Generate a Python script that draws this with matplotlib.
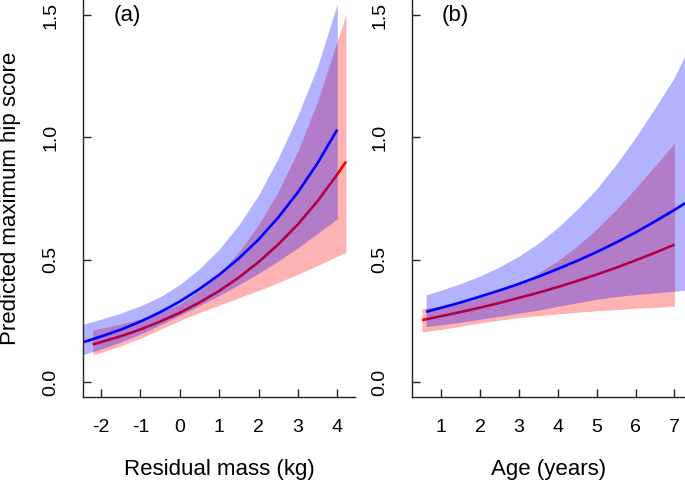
import numpy as np
import matplotlib
matplotlib.use("Agg")
import matplotlib.pyplot as plt

plt.rcParams['font.family'] = ['Liberation Sans', 'DejaVu Sans']
plt.rcParams['axes.unicode_minus'] = False

# panel (a): residual mass
mass_blue = [-2.45, -2, -1.5, -1, -0.5, 0, 0.5, 1, 1.5, 2, 2.5, 3, 3.5, 4.0]
fit_blue_a = [0.164, 0.187, 0.215, 0.248, 0.286, 0.330, 0.381, 0.439, 0.506, 0.583, 0.673, 0.776, 0.895, 1.032]
up_blue_a = [0.237, 0.258, 0.282, 0.312, 0.349, 0.399, 0.464, 0.543, 0.643, 0.764, 0.915, 1.090, 1.290, 1.545]
lo_blue_a = [0.113, 0.136, 0.164, 0.197, 0.234, 0.273, 0.313, 0.355, 0.398, 0.445, 0.495, 0.549, 0.608, 0.668]

mass_red = [-2.21, -2, -1.5, -1, -0.5, 0, 0.5, 1, 1.5, 2, 2.5, 3, 3.5, 4, 4.22]
fit_red_a = [0.155, 0.164, 0.188, 0.216, 0.248, 0.284, 0.326, 0.373, 0.428, 0.491, 0.563, 0.645, 0.740, 0.849, 0.901]
up_red_a = [0.213, 0.220, 0.238, 0.259, 0.284, 0.320, 0.373, 0.442, 0.532, 0.643, 0.779, 0.944, 1.147, 1.394, 1.500]
lo_red_a = [0.113, 0.122, 0.149, 0.180, 0.216, 0.252, 0.285, 0.315, 0.345, 0.375, 0.407, 0.441, 0.477, 0.515, 0.530]

# panel (b): age
age_blue = [0.614, 1, 1.5, 2, 2.5, 3, 3.5, 4, 4.5, 5, 5.5, 6, 6.5, 7, 7.27]
fit_blue_b = [0.288, 0.304, 0.326, 0.350, 0.375, 0.402, 0.431, 0.463, 0.496, 0.532, 0.571, 0.612, 0.657, 0.704, 0.731]
up_blue_b = [0.357, 0.376, 0.403, 0.434, 0.471, 0.515, 0.568, 0.632, 0.706, 0.790, 0.890, 1.000, 1.120, 1.245, 1.335]
lo_blue_b = [0.227, 0.235, 0.245, 0.257, 0.270, 0.282, 0.295, 0.310, 0.325, 0.339, 0.350, 0.358, 0.365, 0.372, 0.376]

age_red = [0.51, 1, 1.5, 2, 2.5, 3, 3.5, 4, 4.5, 5, 5.5, 6, 6.5, 7.0]
fit_red_b = [0.254, 0.270, 0.287, 0.305, 0.324, 0.345, 0.366, 0.389, 0.414, 0.440, 0.468, 0.498, 0.529, 0.5625]
up_red_b = [0.300, 0.312, 0.326, 0.346, 0.372, 0.405, 0.446, 0.496, 0.556, 0.626, 0.705, 0.792, 0.883, 0.977]
lo_red_b = [0.206, 0.216, 0.229, 0.242, 0.254, 0.264, 0.272, 0.279, 0.286, 0.292, 0.297, 0.302, 0.306, 0.311]

W, H = 685, 482
fig = plt.figure(figsize=(W/100, H/100), dpi=100)
ax1 = fig.add_axes([83.3/W, 85/H, (355-83.3)/W, 397/H])
ax2 = fig.add_axes([412.3/W, 85/H, (685-412.3)/W, 397/H])


def panel(ax, xb, fb, ub, lb, xr, fr, ur, lr):
    # red first, blue band drawn over the red line
    ax.fill_between(xr, lr, ur, color=(1, 0, 0), alpha=0.3, lw=0, zorder=1)
    ax.plot(xr, fr, color='red', lw=1.9, solid_capstyle='butt', zorder=2)
    ax.fill_between(xb, lb, ub, color=(0, 0, 1), alpha=0.3, lw=0, zorder=3)
    ax.plot(xb, fb, color='blue', lw=1.9, solid_capstyle='butt', zorder=4)
    ax.set_ylim(-0.06, 1.561)
    ax.set_yticks([0, 0.5, 1.0, 1.5])
    ax.set_yticklabels(['0.0', '0.5', '1.0', '1.5'], rotation=90, va='center')
    for s in ['top', 'right']:
        ax.spines[s].set_visible(False)
    for s in ['left', 'bottom']:
        ax.spines[s].set_linewidth(1.0)
        ax.spines[s].set_color('#222222')
        ax.spines[s].set_zorder(5)
    ax.tick_params(direction='in', length=6, width=1.0, color='#222222', labelsize=14)
    ax.tick_params(axis='x', pad=16)
    ax.tick_params(axis='y', pad=17)


panel(ax1, mass_blue, fit_blue_a, up_blue_a, lo_blue_a, mass_red, fit_red_a, up_red_a, lo_red_a)
ax1.set_xlim(-2.45, 4.45)
ax1.set_xticks(range(-2, 5))
ax1.text(-1.32, 1.497, '(a)', fontsize=16, ha='center', va='center')

panel(ax2, age_blue, fit_blue_b, up_blue_b, lo_blue_b, age_red, fit_red_b, up_red_b, lo_red_b)
ax2.set_xlim(0.26, 7.27)
ax2.set_xticks(range(1, 8))
ax2.text(1.36, 1.497, '(b)', fontsize=16, ha='center', va='center')

fig.text(219/W, 1 - 470/H, 'Residual mass (kg)', fontsize=16, ha='center', va='center')
fig.text(548.6/W, 1 - 470/H, 'Age (years)', fontsize=16, ha='center', va='center')
fig.text(11/W, 1 - 198.5/H, 'Predicted maximum hip score', fontsize=16,
         rotation=90, ha='center', va='center')

fig.savefig('out.png', dpi=100)
